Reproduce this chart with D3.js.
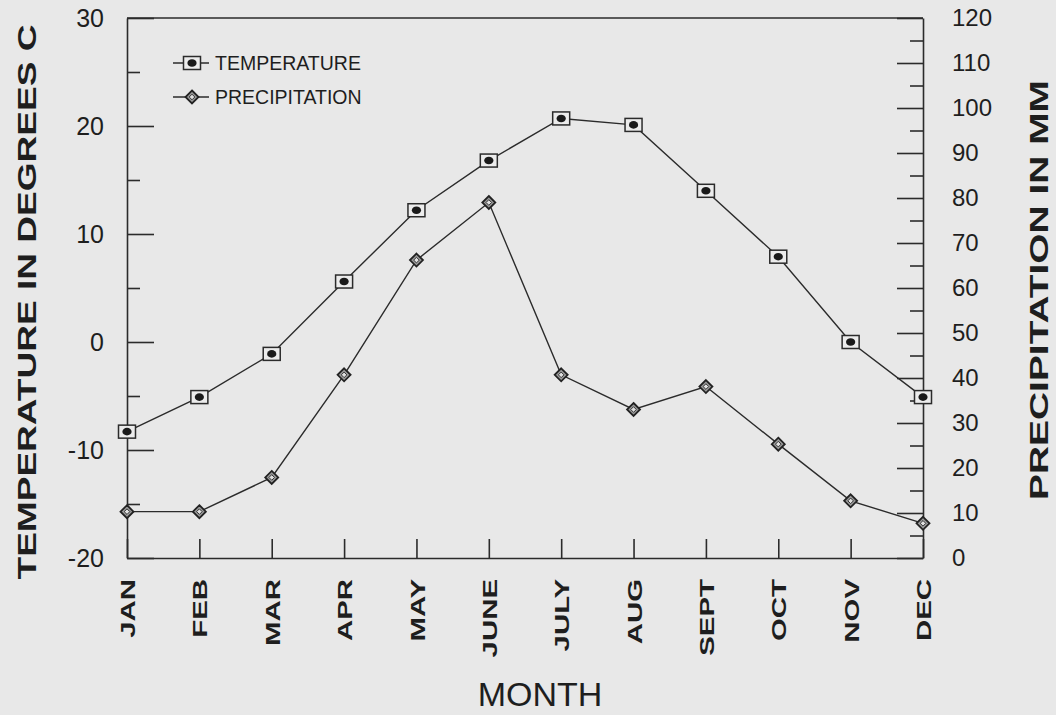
<!DOCTYPE html>
<html>
<head>
<meta charset="utf-8">
<script src="https://cdn.jsdelivr.net/npm/d3@7"></script>
<style>
  html, body { margin: 0; padding: 0; background: #e8e8e8; }
  svg { display: block; font-family: "Liberation Sans", Arial, sans-serif; }
</style>
</head>
<body>
<svg width="1056" height="715"></svg>
<script>
// values
var months = ["JAN", "FEB", "MAR", "APR", "MAY", "JUNE", "JULY", "AUG", "SEPT", "OCT", "NOV", "DEC"];
var temperature = [-8.3, -5.1, -1.1, 5.6, 12.2, 16.8, 20.7, 20.1, 14.0, 7.9, 0, -5.1];
var precipitation = [10.3, 10.3, 17.9, 40.7, 66.2, 79.0, 40.7, 33.0, 38.1, 25.3, 12.7, 7.7];

var tempTicks = [-20, -10, 0, 10, 20, 30];
var tempMinor = [-15, -5, 5, 15, 25];
var precTicks = [0, 10, 20, 30, 40, 50, 60, 70, 80, 90, 100, 110, 120];
var precMinor = [5, 15, 25, 35, 45, 55, 65, 75, 85, 95, 105, 115];

var ink = "#2b2b2b";
var plain = function(d) { return String(d); };  // keep the hyphen minus of the original

var svg = d3.select("svg");
var margin = {top: 18, right: 133, bottom: 157, left: 127};
var width = +svg.attr("width") - margin.left - margin.right;
var height = +svg.attr("height") - margin.top - margin.bottom;

svg.append("rect")
    .attr("width", 1056).attr("height", 715)
    .attr("fill", "#e8e8e8");

var g = svg.append("g")
    .attr("transform", "translate(" + margin.left + "," + margin.top + ")");

var x = d3.scalePoint().domain(months).range([0, width]);
var yT = d3.scaleLinear().domain([-20, 30]).range([height, 0]);
var yP = d3.scaleLinear().domain([0, 120]).range([height, 0]);

function styleAxis(sel) {
    sel.selectAll("path, line").attr("stroke", ink).attr("stroke-width", 1.6);
    sel.selectAll("text").attr("fill", "#1e1e1e");
}

// top frame line
g.append("line")
    .attr("x1", 0).attr("x2", width).attr("y1", 0).attr("y2", 0)
    .attr("stroke", ink).attr("stroke-width", 1.6);

// left axis, ticks inward
g.append("g")
    .call(d3.axisLeft(yT).tickValues(tempTicks).tickFormat(plain).tickSizeInner(-27).tickSizeOuter(0).tickPadding(23))
    .call(styleAxis)
    .selectAll("text").attr("font-size", 25).attr("font-family", "Liberation Sans, Arial, sans-serif");

g.append("g")
    .call(d3.axisLeft(yT).tickValues(tempMinor).tickSizeInner(-13).tickSizeOuter(0).tickFormat(""))
    .call(styleAxis)
    .select(".domain").remove();

// right axis
g.append("g")
    .attr("transform", "translate(" + width + ",0)")
    .call(d3.axisRight(yP).tickValues(precTicks).tickFormat(plain).tickSizeInner(-26).tickSizeOuter(0).tickPadding(29))
    .call(styleAxis)
    .selectAll("text").attr("font-size", 24).attr("font-family", "Liberation Sans, Arial, sans-serif");

g.append("g")
    .attr("transform", "translate(" + width + ",0)")
    .call(d3.axisRight(yP).tickValues(precMinor).tickSizeInner(-13).tickSizeOuter(0).tickFormat(""))
    .call(styleAxis)
    .select(".domain").remove();

// bottom axis with upward ticks and rotated month names
var xAxis = g.append("g")
    .attr("transform", "translate(0," + height + ")")
    .call(d3.axisBottom(x).tickSizeInner(-19).tickSizeOuter(0))
    .call(styleAxis);

xAxis.selectAll("text")
    .attr("y", null).attr("dy", "0.36em")
    .attr("font-size", 21)
    .attr("font-weight", "bold")
    .attr("font-family", "Liberation Sans, Arial, sans-serif")
    .attr("text-anchor", "end")
    .attr("transform", "translate(0,21) rotate(-90) scale(1.4,1)");

// lines
var tempData = months.map(function(m, i) { return {month: m, value: temperature[i]}; });
var precData = months.map(function(m, i) { return {month: m, value: precipitation[i]}; });

var tempLine = d3.line()
    .x(function(d) { return x(d.month); })
    .y(function(d) { return yT(d.value); });

var precLine = d3.line()
    .x(function(d) { return x(d.month); })
    .y(function(d) { return yP(d.value); });

g.append("path")
    .datum(tempData)
    .attr("d", tempLine)
    .attr("fill", "none")
    .attr("stroke", ink)
    .attr("stroke-width", 1.4);

g.append("path")
    .datum(precData)
    .attr("d", precLine)
    .attr("fill", "none")
    .attr("stroke", ink)
    .attr("stroke-width", 1.4);

function squareMarker(sel) {
    sel.append("rect")
        .attr("x", -8.5).attr("y", -6.5)
        .attr("width", 17).attr("height", 13)
        .attr("fill", "#ececec")
        .attr("stroke", ink).attr("stroke-width", 1.5);
    sel.append("ellipse")
        .attr("rx", 4.6).attr("ry", 3.8)
        .attr("fill", "#1a1a1a");
}

function diamondMarker(sel) {
    sel.append("path")
        .attr("d", "M0,-6.5L6.5,0L0,6.5L-6.5,0Z")
        .attr("fill", "#9a9a9a")
        .attr("stroke", "#222").attr("stroke-width", 1.8);
    sel.append("path")
        .attr("d", "M0,-2.8L2.8,0L0,2.8L-2.8,0Z")
        .attr("fill", "#e0e0e0")
        .attr("stroke", "#333").attr("stroke-width", 1);
}

g.selectAll(".temp-pt")
    .data(tempData)
    .enter().append("g")
    .attr("class", "temp-pt")
    .attr("transform", function(d) { return "translate(" + x(d.month) + "," + yT(d.value) + ")"; })
    .call(squareMarker);

g.selectAll(".prec-pt")
    .data(precData)
    .enter().append("g")
    .attr("class", "prec-pt")
    .attr("transform", function(d) { return "translate(" + x(d.month) + "," + yP(d.value) + ")"; })
    .call(diamondMarker);

// legend
var legendItems = [
    {label: "TEMPERATURE", marker: squareMarker, y: 63},
    {label: "PRECIPITATION", marker: diamondMarker, y: 97}
];

var legend = svg.append("g");
legendItems.forEach(function(item) {
    var row = legend.append("g").attr("transform", "translate(0," + item.y + ")");
    row.append("line")
        .attr("x1", 173).attr("x2", 209)
        .attr("stroke", ink).attr("stroke-width", 1.4);
    row.append("g").attr("transform", "translate(192,0)").call(item.marker);
    row.append("text")
        .attr("x", 215).attr("dy", "0.36em")
        .attr("font-size", 19.5)
        .attr("fill", "#1e1e1e")
        .text(item.label);
});

// axis titles
svg.append("text")
    .attr("transform", "translate(27,302) rotate(-90)")
    .attr("text-anchor", "middle")
    .attr("dy", "0.36em")
    .attr("font-size", 26)
    .attr("font-weight", "bold")
    .attr("fill", "#1e1e1e")
    .attr("textLength", 555)
    .attr("lengthAdjust", "spacingAndGlyphs")
    .text("TEMPERATURE IN DEGREES C");

svg.append("text")
    .attr("transform", "translate(1039,290) rotate(-90)")
    .attr("text-anchor", "middle")
    .attr("dy", "0.36em")
    .attr("font-size", 26)
    .attr("font-weight", "bold")
    .attr("fill", "#1e1e1e")
    .attr("textLength", 420)
    .attr("lengthAdjust", "spacingAndGlyphs")
    .text("PRECIPITATION IN MM");

svg.append("text")
    .attr("x", 540).attr("y", 706)
    .attr("text-anchor", "middle")
    .attr("font-size", 34)
    .attr("fill", "#1e1e1e")
    .text("MONTH");
</script>
</body>
</html>
